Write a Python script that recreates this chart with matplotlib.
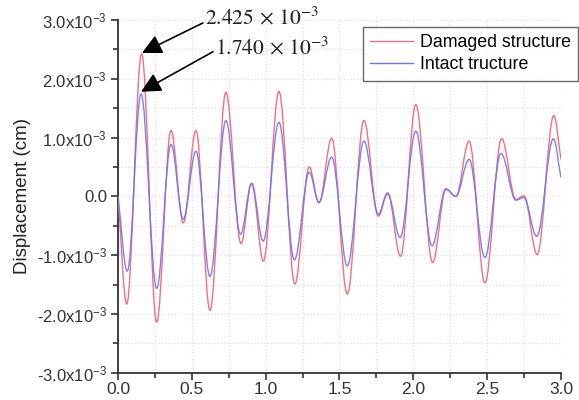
import numpy as np
import matplotlib
matplotlib.use("Agg")
import matplotlib.pyplot as plt
from matplotlib.path import Path
from matplotlib.patches import PathPatch
from matplotlib.lines import Line2D
from matplotlib.ticker import MultipleLocator, FuncFormatter

plt.rcParams["font.family"] = ["Liberation Sans", "DejaVu Sans"]
plt.rcParams["mathtext.fontset"] = "custom"
plt.rcParams["mathtext.rm"] = "Liberation Sans"
plt.rcParams["mathtext.it"] = "Liberation Sans:italic"

# turning points (time in s, displacement in 1e-3 cm)
t_damaged = [0.000, 0.059, 0.160, 0.262, 0.359, 0.442, 0.528, 0.623, 0.731, 0.833,
             0.905, 0.985, 1.090, 1.198, 1.295, 1.361, 1.447, 1.553, 1.666, 1.763,
             1.826, 1.914, 2.017, 2.131, 2.221, 2.288, 2.378, 2.485, 2.598, 2.695,
             2.749, 2.839, 2.952, 3.000]
d_damaged = [0.00, -1.83, 2.425, -2.14, 1.12, -0.45, 1.12, -1.94, 1.77, -0.80,
             0.22, -1.10, 1.785, -1.49, 0.50, -0.11, 0.99, -1.66, 1.29, -0.335,
             0.06, -1.02, 1.56, -1.125, 0.12, 0.00, 0.94, -1.47, 0.98, -0.05,
             0.01, -0.99, 1.375, 0.63]

t_intact = [0.000, 0.063, 0.156, 0.262, 0.359, 0.442, 0.528, 0.623, 0.731, 0.830,
            0.905, 0.983, 1.090, 1.195, 1.295, 1.361, 1.447, 1.553, 1.666, 1.763,
            1.826, 1.911, 2.017, 2.127, 2.221, 2.288, 2.378, 2.485, 2.594, 2.695,
            2.749, 2.836, 2.949, 3.000]
d_intact = [0.00, -1.27, 1.74, -1.565, 0.885, -0.385, 0.77, -1.36, 1.29, -0.64,
            0.22, -0.76, 1.26, -1.08, 0.41, -0.10, 0.67, -1.18, 0.94, -0.305,
            0.05, -0.70, 1.11, -0.84, 0.13, 0.00, 0.63, -1.04, 0.73, -0.065,
            -0.02, -0.68, 0.98, 0.32]

red = "#f07080"
blue = "#7272f0"


def spline_path(t, d):
    # spline-connected line: flat tangents at the turning points
    x = np.asarray(t)
    y = np.asarray(d) * 1e-3
    n = len(x)
    verts = [(x[0], y[0])]
    codes = [Path.MOVETO]
    k = 1 - 2 / np.pi
    for i in range(n - 1):
        dx = x[i + 1] - x[i]
        dy = y[i + 1] - y[i]
        c1y = y[i] if i > 0 else y[i] + k * dy
        c2y = y[i + 1] if i + 1 < n - 1 else y[i + 1] - k * dy
        verts += [(x[i] + k * dx, c1y), (x[i + 1] - k * dx, c2y), (x[i + 1], y[i + 1])]
        codes += [Path.CURVE4] * 3
    return Path(verts, codes)


fig = plt.figure(figsize=(5.79, 4.0), dpi=100)
ax = fig.add_axes([0.2038, 0.068, 0.765, 0.882])

ax.add_patch(PathPatch(spline_path(t_damaged, d_damaged), fill=False,
                       edgecolor=red, lw=1.0, zorder=3))
ax.add_patch(PathPatch(spline_path(t_intact, d_intact), fill=False,
                       edgecolor=blue, lw=1.0, alpha=0.9, zorder=4))

ax.set_xlim(0, 3.0)
ax.set_ylim(-3e-3, 3e-3)
ax.xaxis.set_major_locator(MultipleLocator(0.5))
ax.xaxis.set_minor_locator(MultipleLocator(0.25))
ax.yaxis.set_major_locator(MultipleLocator(1e-3))
ax.yaxis.set_minor_locator(MultipleLocator(0.5e-3))


def yfmt(v, pos):
    m = v / 1e-3
    if abs(m) < 1e-9:
        return "0.0"
    return "%.1fx10$^{-3}$" % m


ax.yaxis.set_major_formatter(FuncFormatter(yfmt))
ax.xaxis.set_major_formatter(FuncFormatter(lambda v, p: "%.1f" % v))

for s in ["top", "right"]:
    ax.spines[s].set_visible(False)
for s in ["left", "bottom"]:
    ax.spines[s].set_color("#333333")
    ax.spines[s].set_linewidth(1.3)

ax.tick_params(which="major", direction="out", length=5, width=1.2, color="#333333")
ax.tick_params(which="minor", direction="out", length=3.5, width=1.2, color="#333333")
ax.tick_params(axis="y", labelsize=12, labelcolor="#333333", pad=3)
ax.tick_params(axis="x", labelsize=12.5, labelcolor="#333333", pad=1.5)

ax.grid(True, which="both", color="#dddddd", linestyle=":", linewidth=0.9)
ax.set_axisbelow(True)

ax.set_ylabel("Displacement (cm)", fontsize=13.5, color="#222222", labelpad=4)

# peak annotations
arrow = dict(arrowstyle="-|>,head_length=0.6,head_width=0.3", color="black",
             lw=1.2, mutation_scale=20, shrinkA=0, shrinkB=0)
ax.annotate("", xy=(0.162, 2.44e-3), xytext=(0.575, 2.95e-3),
            arrowprops=arrow, annotation_clip=False)
ax.annotate("", xy=(0.156, 1.78e-3), xytext=(0.643, 2.46e-3),
            arrowprops=arrow, annotation_clip=False)
ax.text(0.589, 3.04e-3, r"$2.425\,\times\,10^{-3}$", fontsize=15.5, ha="left",
        va="center", math_fontfamily="stix", color="#222222", clip_on=False)
ax.text(0.657, 2.53e-3, r"$1.740\,\times\,10^{-3}$", fontsize=15.5, ha="left",
        va="center", math_fontfamily="stix", color="#222222", clip_on=False)

handles = [Line2D([], [], color=red, lw=1.0), Line2D([], [], color=blue, lw=1.0)]
leg = fig.legend(handles, ["Damaged structure", "Intact tructure"],
                 loc="upper right", bbox_to_anchor=(0.998, 0.9325), fontsize=12.8,
                 frameon=True, fancybox=False, handlelength=2.4, handletextpad=0.4,
                 borderpad=0.4, labelspacing=0.3, borderaxespad=0)
leg.get_frame().set_edgecolor("#444444")
leg.get_frame().set_linewidth(1.0)

fig.savefig("out.png", dpi=100)
